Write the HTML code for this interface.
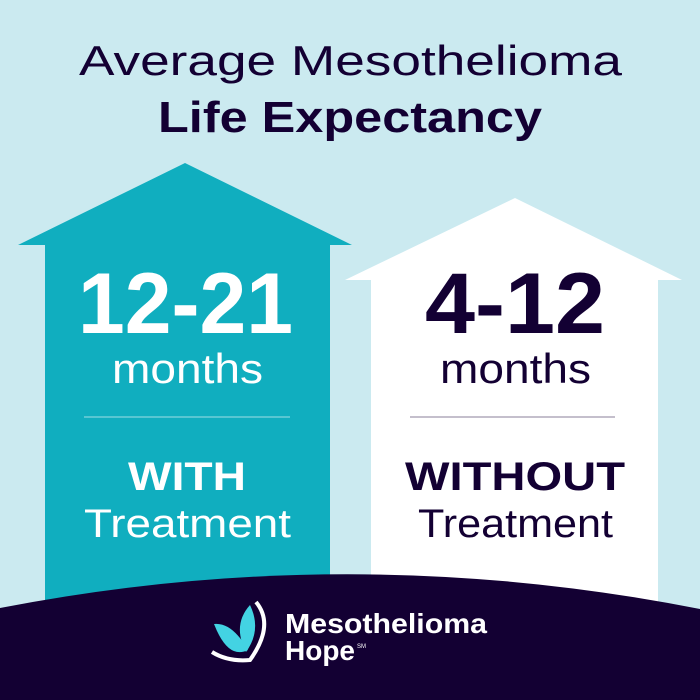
<!DOCTYPE html>
<html><head><meta charset="utf-8"><style>
body{margin:0;width:700px;height:700px;overflow:hidden;background:#cbeaf0;font-family:"Liberation Sans",sans-serif}
</style></head><body>
<svg width="700" height="700" viewBox="0 0 700 700" xmlns="http://www.w3.org/2000/svg" style="position:absolute;left:0;top:0" font-family="Liberation Sans">
<rect width="700" height="700" fill="#cbeaf0"/>
<polygon points="185,163 352,245 330,245 330,620 45,620 45,245 18,245" fill="#10aebf"/>
<polygon points="515,198 682,280 658,280 658,620 371,620 371,280 345,280" fill="#ffffff"/>
<path d="M0,608 Q350,540 700,609 L700,700 L0,700 Z" fill="#130033"/>
<text x="79" y="75" font-size="42" fill="#130033" textLength="543" lengthAdjust="spacingAndGlyphs">Average Mesothelioma</text>
<text x="158" y="132" font-size="44" font-weight="bold" fill="#130033" textLength="384" lengthAdjust="spacingAndGlyphs">Life Expectancy</text>
<text x="78" y="333" font-size="86" font-weight="bold" fill="#fff" textLength="215" lengthAdjust="spacingAndGlyphs">12-21</text>
<text x="112" y="383" font-size="42" fill="#fff" textLength="151" lengthAdjust="spacingAndGlyphs">months</text>
<line x1="84" y1="417" x2="290" y2="417" stroke="#fff" stroke-opacity="0.6" stroke-width="1"/>
<text x="128" y="490" font-size="40" font-weight="bold" fill="#fff" textLength="118" lengthAdjust="spacingAndGlyphs">WITH</text>
<text x="84" y="537" font-size="40" fill="#fff" textLength="207" lengthAdjust="spacingAndGlyphs">Treatment</text>
<text x="425" y="333" font-size="86" font-weight="bold" fill="#130033" textLength="180" lengthAdjust="spacingAndGlyphs">4-12</text>
<text x="440" y="383" font-size="42" fill="#130033" textLength="151" lengthAdjust="spacingAndGlyphs">months</text>
<line x1="410" y1="417" x2="615" y2="417" stroke="#130033" stroke-opacity="0.5" stroke-width="1"/>
<text x="405" y="490" font-size="40" font-weight="bold" fill="#130033" textLength="220" lengthAdjust="spacingAndGlyphs">WITHOUT</text>
<text x="418" y="537" font-size="40" fill="#130033" textLength="195" lengthAdjust="spacingAndGlyphs">Treatment</text>
<g>
<path d="M214,624 Q232,622 248,650 Q228,660 214,624 Z" fill="#43d3e3"/>
<path d="M250,605 Q232,625 246,652 Q262,630 250,605 Z" fill="#43d3e3"/>
<path d="M256,602 Q275,625 250,660 Q228,662 212,652" fill="none" stroke="#fff" stroke-width="4"/>
</g>
<text x="285" y="633" font-size="28" font-weight="bold" fill="#fff" textLength="202" lengthAdjust="spacingAndGlyphs">Mesothelioma</text>
<text x="285" y="660" font-size="28" font-weight="bold" fill="#fff" textLength="70" lengthAdjust="spacingAndGlyphs">Hope</text>
<text x="357" y="648" font-size="6" fill="#fff">SM</text>
</svg>
</body></html>
